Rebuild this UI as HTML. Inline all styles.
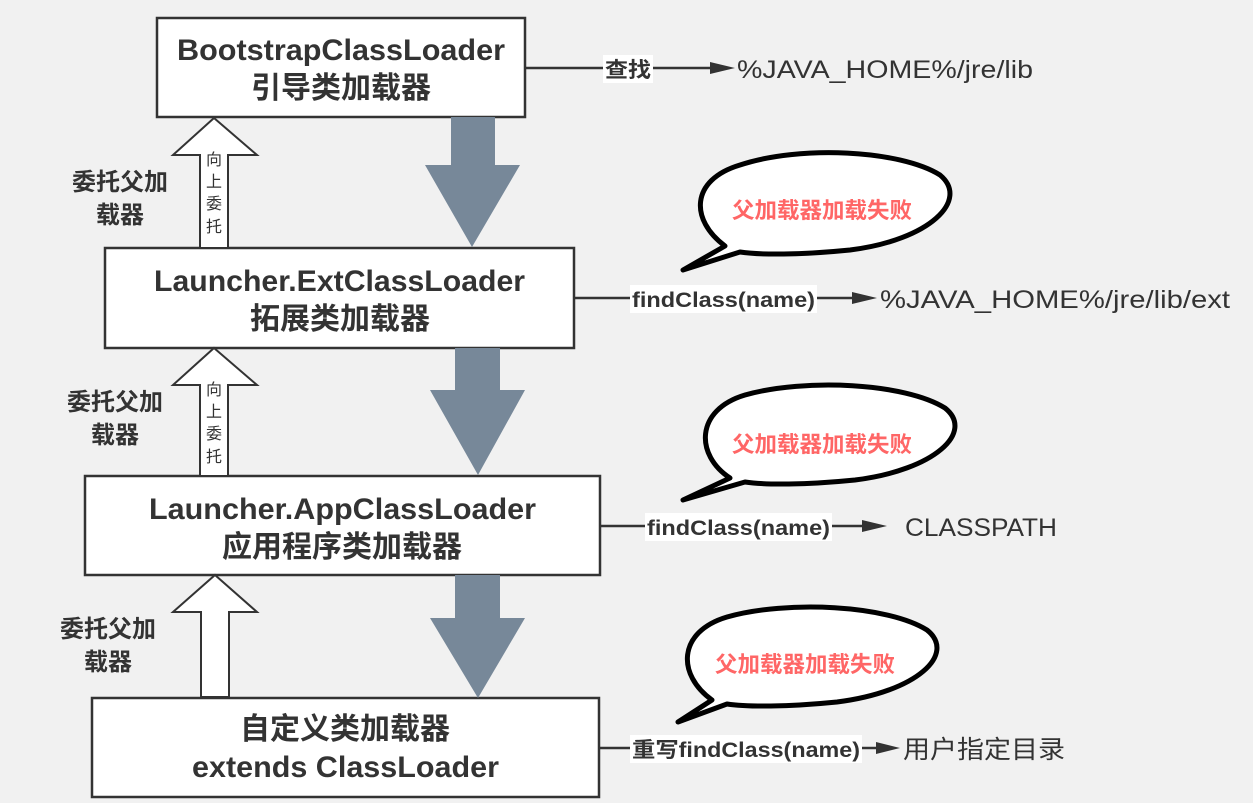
<!DOCTYPE html>
<html><head><meta charset="utf-8"><style>
body{margin:0;background:#f1f1f1;}
svg{display:block}
.b{font-family:"Liberation Sans","Noto Sans CJK SC",sans-serif;font-weight:bold;fill:#333;}
.n{font-family:"Liberation Sans","Noto Sans CJK SC",sans-serif;fill:#333;}
</style></head><body>
<svg width="1253" height="803" viewBox="0 0 1253 803" xmlns="http://www.w3.org/2000/svg">
<rect width="1253" height="803" fill="#f1f1f1"/>
<g stroke="#333" stroke-width="2.5" fill="#fff">
<rect x="157" y="18" width="368" height="99"/>
<rect x="105" y="248" width="469" height="100"/>
<rect x="85" y="476" width="515" height="99"/>
<rect x="92" y="698" width="507" height="99"/>
</g>
<g fill="#778899">
<path d="M451,117 H495 V165 H520 L472,247 L425,165 H451 Z"/>
<path d="M455,348 H500 V390 H525 L478,475 L430,390 H455 Z"/>
<path d="M455,575 H500 V618 H525 L478,698 L430,618 H455 Z"/>
</g>
<g fill="#fff" stroke="#333" stroke-width="2">
<path d="M214,118 L257,155 H228 V248 H200 V155 H173 Z"/>
<path d="M214,348 L257,385 H228 V476 H200 V385 H173 Z"/>
<path d="M215,575 L257,612 H229 V697 H201 V612 H173 Z"/>
</g>
<g class="n" font-size="16" text-anchor="middle">
<text x="214" y="165">向</text><text x="214" y="187">上</text><text x="214" y="209">委</text><text x="214" y="232">托</text>
<text x="214" y="395">向</text><text x="214" y="417">上</text><text x="214" y="439">委</text><text x="214" y="462">托</text>
</g>
<g class="b" font-size="30">
<text x="177" y="60" textLength="328" lengthAdjust="spacingAndGlyphs">BootstrapClassLoader</text>
<text x="251" y="98" textLength="180" lengthAdjust="spacingAndGlyphs">引导类加载器</text>
<text x="154" y="291" textLength="371" lengthAdjust="spacingAndGlyphs">Launcher.ExtClassLoader</text>
<text x="250" y="329" textLength="180" lengthAdjust="spacingAndGlyphs">拓展类加载器</text>
<text x="149" y="519" textLength="387" lengthAdjust="spacingAndGlyphs">Launcher.AppClassLoader</text>
<text x="222" y="557" textLength="240" lengthAdjust="spacingAndGlyphs">应用程序类加载器</text>
<text x="240" y="739" textLength="210" lengthAdjust="spacingAndGlyphs">自定义类加载器</text>
<text x="192" y="777" textLength="307" lengthAdjust="spacingAndGlyphs">extends ClassLoader</text>
</g>
<g class="b" font-size="24" text-anchor="middle">
<text x="120" y="190">委托父加</text><text x="120" y="223">载器</text>
<text x="115" y="410">委托父加</text><text x="115" y="443">载器</text>
<text x="108" y="637">委托父加</text><text x="108" y="670">载器</text>
</g>
<g stroke="#333" stroke-width="2.5" fill="none">
<line x1="525" y1="68" x2="603" y2="68"/><line x1="653" y1="68" x2="710" y2="68"/>
<line x1="574" y1="298" x2="630" y2="298"/><line x1="817" y1="298" x2="852" y2="298"/>
<line x1="600" y1="526" x2="645" y2="526"/><line x1="832" y1="526" x2="862" y2="526"/>
<line x1="600" y1="748" x2="630" y2="748"/><line x1="862" y1="748" x2="878" y2="748"/>
</g>
<g fill="#333">
<path d="M710,62 L735,68 L710,74 Z"/>
<path d="M852,292 L877,298 L852,304 Z"/>
<path d="M862,520 L887,526 L862,532 Z"/>
<path d="M876,742 L900,748 L876,754 Z"/>
</g>
<g fill="#fff">
<rect x="603" y="55" width="50" height="28"/>
<rect x="630" y="285" width="187" height="28"/>
<rect x="645" y="513" width="187" height="28"/>
<rect x="630" y="735" width="232" height="28"/>
</g>
<g class="b" font-size="21">
<text x="605" y="77" textLength="46" lengthAdjust="spacingAndGlyphs">查找</text>
<text x="632" y="307" textLength="183" lengthAdjust="spacingAndGlyphs">findClass(name)</text>
<text x="647" y="535" textLength="183" lengthAdjust="spacingAndGlyphs">findClass(name)</text>
<text x="632" y="757" textLength="228" lengthAdjust="spacingAndGlyphs">重写findClass(name)</text>
</g>
<g class="n" font-size="25">
<text x="737" y="78" textLength="296" lengthAdjust="spacingAndGlyphs">%JAVA_HOME%/jre/lib</text>
<text x="880" y="308" textLength="350" lengthAdjust="spacingAndGlyphs">%JAVA_HOME%/jre/lib/ext</text>
<text x="905" y="536" textLength="152" lengthAdjust="spacingAndGlyphs">CLASSPATH</text>
<text x="903" y="758" textLength="162" lengthAdjust="spacingAndGlyphs">用户指定目录</text>
</g>
<g fill="#fff" stroke="#000" stroke-width="5" stroke-linejoin="round">
<path d="M725,246 C690,220 690,180 740,165 C800,145 900,150 940,175 C970,200 930,240 850,250 C800,255 760,255 740,252 L683,270 Z"/>
<path d="M730,478 C695,455 695,410 745,395 C805,378 905,383 945,408 C975,432 935,470 855,480 C805,485 765,485 745,482 L683,500 Z"/>
<path d="M712,700 C677,675 677,632 727,617 C787,600 887,605 927,630 C957,654 917,692 837,702 C787,707 747,707 727,704 L678,722 Z"/>
</g>
<g font-family="Liberation Sans,'Noto Sans CJK SC',sans-serif" font-weight="bold" font-size="22" fill="#ff6666">
<text x="732" y="218" textLength="180" lengthAdjust="spacingAndGlyphs">父加载器加载失败</text>
<text x="732" y="452" textLength="180" lengthAdjust="spacingAndGlyphs">父加载器加载失败</text>
<text x="715" y="672" textLength="180" lengthAdjust="spacingAndGlyphs">父加载器加载失败</text>
</g>
</svg>
</body></html>
